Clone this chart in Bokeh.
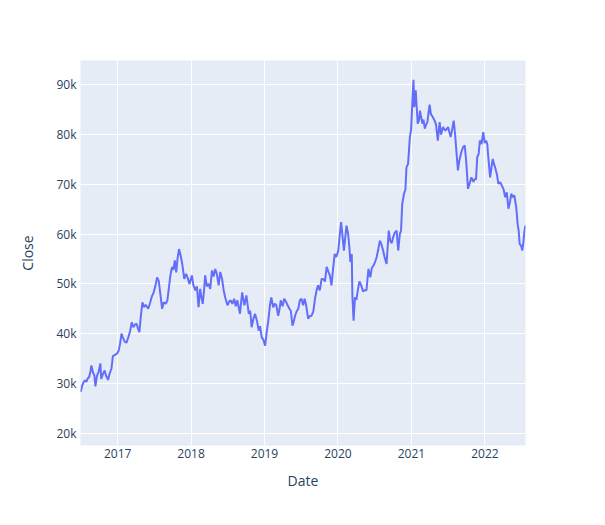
from datetime import datetime
import pandas as pd
from bokeh.plotting import figure
from bokeh.models import Range1d, FixedTicker, ColumnDataSource
from bokeh.embed import file_html
from bokeh.resources import INLINE

dates = [
    "2016-07-01", "2016-07-08", "2016-07-15", "2016-07-22", "2016-07-29", "2016-08-05", "2016-08-12", "2016-08-19",
    "2016-08-23", "2016-08-31", "2016-09-07", "2016-09-12", "2016-09-20", "2016-09-28", "2016-10-07", "2016-10-11",
    "2016-10-19", "2016-10-28", "2016-11-04", "2016-11-14", "2016-11-22", "2016-12-01", "2016-12-08", "2016-12-16",
    "2016-12-29", "2017-01-06", "2017-01-13", "2017-01-20", "2017-01-27", "2017-02-06", "2017-02-14", "2017-02-23",
    "2017-03-03", "2017-03-12", "2017-03-20", "2017-03-28", "2017-04-05", "2017-04-12", "2017-04-19", "2017-04-26",
    "2017-05-04", "2017-05-12", "2017-05-20", "2017-05-28", "2017-06-02", "2017-06-12", "2017-06-20", "2017-06-29",
    "2017-07-07", "2017-07-16", "2017-07-24", "2017-08-01", "2017-08-10", "2017-08-18", "2017-08-28", "2017-09-05",
    "2017-09-12", "2017-09-20", "2017-09-28", "2017-10-05", "2017-10-12", "2017-10-19", "2017-10-26", "2017-11-02",
    "2017-11-10", "2017-11-18", "2017-11-28", "2017-12-07", "2017-12-15", "2017-12-24", "2018-01-05", "2018-01-12",
    "2018-01-22", "2018-01-30", "2018-02-07", "2018-02-15", "2018-02-22", "2018-02-28", "2018-03-06", "2018-03-12",
    "2018-03-20", "2018-03-29", "2018-04-06", "2018-04-15", "2018-04-23", "2018-05-01", "2018-05-09", "2018-05-18",
    "2018-05-26", "2018-06-04", "2018-06-12", "2018-06-20", "2018-07-01", "2018-07-10", "2018-07-17", "2018-07-25",
    "2018-08-03", "2018-08-11", "2018-08-19", "2018-09-01", "2018-09-12", "2018-09-23", "2018-10-03", "2018-10-10",
    "2018-10-15", "2018-10-22", "2018-10-29", "2018-11-07", "2018-11-15", "2018-11-25", "2018-12-03", "2018-12-10",
    "2018-12-18", "2018-12-27", "2019-01-04", "2019-01-12", "2019-01-20", "2019-01-28", "2019-02-04", "2019-02-13",
    "2019-02-21", "2019-03-01", "2019-03-10", "2019-03-17", "2019-03-23", "2019-04-01", "2019-04-09", "2019-04-17",
    "2019-04-26", "2019-05-05", "2019-05-12", "2019-05-20", "2019-05-27", "2019-06-02", "2019-06-10", "2019-06-18",
    "2019-06-26", "2019-07-04", "2019-07-12", "2019-07-20", "2019-07-28", "2019-08-06", "2019-08-13", "2019-08-23",
    "2019-09-01", "2019-09-09", "2019-09-17", "2019-09-24", "2019-10-03", "2019-10-12", "2019-10-20", "2019-10-29",
    "2019-11-06", "2019-11-14", "2019-11-22", "2019-11-30", "2019-12-08", "2019-12-16", "2019-12-24", "2020-01-03",
    "2020-01-10", "2020-01-17", "2020-01-23", "2020-01-31", "2020-02-07", "2020-02-13", "2020-02-21", "2020-02-27",
    "2020-03-03", "2020-03-10", "2020-03-13", "2020-03-19", "2020-03-26", "2020-04-02", "2020-04-09", "2020-04-17",
    "2020-04-26", "2020-05-05", "2020-05-13", "2020-05-22", "2020-06-01", "2020-06-10", "2020-06-18", "2020-06-26",
    "2020-07-03", "2020-07-12", "2020-07-20", "2020-07-28", "2020-08-04", "2020-08-13", "2020-08-20", "2020-08-30",
    "2020-09-10", "2020-09-18", "2020-09-25", "2020-10-02", "2020-10-10", "2020-10-19", "2020-10-27", "2020-11-04",
    "2020-11-10", "2020-11-16", "2020-11-25", "2020-12-02", "2020-12-07", "2020-12-15", "2020-12-24", "2020-12-30",
    "2021-01-08", "2021-01-11", "2021-01-15", "2021-01-22", "2021-02-01", "2021-02-08", "2021-02-12", "2021-02-24",
    "2021-03-02", "2021-03-08", "2021-03-15", "2021-03-21", "2021-04-01", "2021-04-08", "2021-04-13", "2021-04-26",
    "2021-05-03", "2021-05-12", "2021-05-21", "2021-05-28", "2021-06-07", "2021-06-14", "2021-06-19", "2021-07-02",
    "2021-07-08", "2021-07-15", "2021-07-22", "2021-07-30", "2021-08-06", "2021-08-12", "2021-08-20", "2021-08-27",
    "2021-09-06", "2021-09-15", "2021-09-23", "2021-10-01", "2021-10-09", "2021-10-18", "2021-10-26", "2021-11-05",
    "2021-11-12", "2021-11-18", "2021-11-24", "2021-12-01", "2021-12-07", "2021-12-15", "2021-12-24", "2021-12-31",
    "2022-01-07", "2022-01-13", "2022-01-18", "2022-01-27", "2022-02-03", "2022-02-09", "2022-02-16", "2022-02-21",
    "2022-03-02", "2022-03-09", "2022-03-18", "2022-03-26", "2022-04-04", "2022-04-12", "2022-04-20", "2022-04-28",
    "2022-05-06", "2022-05-12", "2022-05-20", "2022-05-27", "2022-06-06", "2022-06-13", "2022-06-18", "2022-06-23",
    "2022-06-30", "2022-07-06", "2022-07-12", "2022-07-15", "2022-07-21",
]

close = [
    28300, 29500, 30200, 30600, 30300, 31000, 31300, 32500,
    33600, 32200, 31600, 29400, 31500, 32300, 34000, 30900,
    31800, 32600, 31600, 30700, 32000, 33000, 35500, 35700,
    36000, 36600, 38000, 40000, 39200, 38300, 38200, 39300,
    40400, 42300, 41300, 41800, 42000, 41000, 40300, 43500,
    46300, 45300, 45800, 45300, 45000, 46300, 47500, 48300,
    49500, 51300, 50600, 48000, 45000, 46300, 46000, 46700,
    49000, 51700, 53400, 52800, 54700, 52300, 55200, 57000,
    55700, 54000, 51000, 52000, 51200, 50000, 51700, 49800,
    48700, 49500, 45300, 49000, 47200, 46000, 48500, 51700,
    49500, 50000, 49000, 52700, 51500, 53000, 52000, 49700,
    52400, 51000, 48700, 47200, 45700, 46500, 46700, 46000,
    47000, 45500, 46700, 44000, 48300, 45700, 47700, 45500,
    44000, 44600, 41300, 43000, 44000, 42500, 40600, 41500,
    39300, 38700, 37600, 40300, 42600, 45700, 47300, 45300,
    46000, 45700, 43600, 45000, 46700, 45500, 47000, 46500,
    45700, 45000, 44600, 41600, 42500, 43600, 44500, 45000,
    46700, 47000, 45700, 47000, 45500, 43000, 43500, 43600,
    44500, 47000, 48700, 49700, 48700, 51000, 51000, 50500,
    53400, 52500, 51700, 49700, 53000, 56000, 55400, 56700,
    59700, 62400, 60000, 56700, 59500, 61700, 60000, 57400,
    54400, 56000, 47700, 42600, 47300, 46800, 48700, 50500,
    49700, 48500, 48700, 48700, 53000, 51300, 53200, 53700,
    54300, 55400, 57000, 58700, 58000, 56700, 55400, 54000,
    60700, 58500, 58200, 59400, 60300, 60700, 56700, 60000,
    60700, 66100, 68100, 69000, 73400, 74100, 79500, 81000,
    88800, 91000, 85500, 88900, 82200, 83000, 84800, 82200,
    83000, 81200, 82000, 82500, 86000, 84000, 83800, 82800,
    82000, 78800, 82500, 80000, 81500, 81000, 80800, 81500,
    80500, 79500, 81000, 82800, 80000, 76800, 72800, 74800,
    76500, 77500, 77800, 74100, 69100, 70300, 71400, 70500,
    71100, 71000, 75500, 76100, 78800, 78100, 80500, 78300,
    78800, 78100, 75500, 71400, 73400, 75100, 74000, 73400,
    72000, 70100, 70400, 69800, 69000, 67400, 68400, 65100,
    66500, 68100, 67400, 67800, 65400, 62000, 60700, 58000,
    57700, 56700, 58500, 60000, 61700,
]

year_ticks = ["2017", "2018", "2019", "2020", "2021", "2022"]
y_ticks = [20000, 30000, 40000, 50000, 60000, 70000, 80000, 90000]
y_tick_labels = ["20k", "30k", "40k", "50k", "60k", "70k", "80k", "90k"]

src = ColumnDataSource(dict(Date=pd.to_datetime(dates), Close=close))

FONT = "Open Sans"
TXT = "#2a3f5f"

p = figure(
    x_axis_type="datetime",
    frame_width=445, frame_height=385,
    min_border_left=80, min_border_right=72, min_border_top=60, min_border_bottom=72,
    output_backend="svg", toolbar_location=None,
    x_range=Range1d(datetime(2016, 6, 30), datetime(2022, 7, 22)),
    y_range=Range1d(17530, 94880),
)
p.line("Date", "Close", source=src, line_color="#636efa", line_width=2)

p.background_fill_color = "#e5ecf6"
p.border_fill_color = "white"
p.outline_line_color = None
p.grid.grid_line_color = "white"
p.grid.grid_line_width = 1

tick_ms = [pd.Timestamp(f"{y}-01-01").value / 1e6 for y in year_ticks]
p.xaxis.ticker = FixedTicker(ticks=tick_ms)
p.xaxis.major_label_overrides = {t: lab for t, lab in zip(tick_ms, year_ticks)}
p.yaxis.ticker = FixedTicker(ticks=y_ticks)
p.yaxis.major_label_overrides = {t: lab for t, lab in zip(y_ticks, y_tick_labels)}

for ax in (p.xaxis[0], p.yaxis[0]):
    ax.axis_line_color = None
    ax.major_tick_line_color = None
    ax.minor_tick_line_color = None
    ax.major_tick_in = 0
    ax.major_tick_out = 0
    ax.major_label_text_font = FONT
    ax.major_label_text_font_size = "12px"
    ax.major_label_text_color = TXT
    ax.axis_label_text_font = FONT
    ax.axis_label_text_font_size = "14px"
    ax.axis_label_text_color = TXT
    ax.axis_label_text_font_style = "normal"

p.xaxis.axis_label = "Date"
p.yaxis.axis_label = "Close"
p.xaxis.major_label_standoff = 3
p.yaxis.major_label_standoff = 4
p.xaxis.axis_label_standoff = 10
p.yaxis.axis_label_standoff = 16

open("out.html", "w").write(file_html(p, INLINE))
